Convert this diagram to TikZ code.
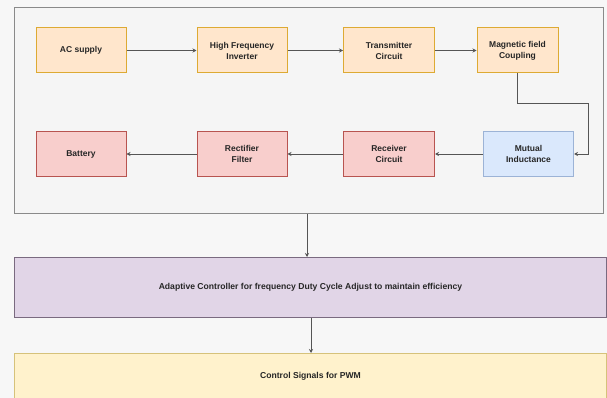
\documentclass[tikz,border=0pt]{standalone}
\usepackage{fontspec}
\setmainfont{Liberation Sans}
\usetikzlibrary{arrows.meta}
\definecolor{bg}{HTML}{F7F7F7}
\definecolor{contfill}{HTML}{F5F5F5}
\definecolor{contline}{HTML}{8A8A8A}
\definecolor{orfill}{HTML}{FFE6CC}
\definecolor{orline}{HTML}{DDAA33}
\definecolor{rdfill}{HTML}{F8CECC}
\definecolor{rdline}{HTML}{B85450}
\definecolor{blfill}{HTML}{DAE8FC}
\definecolor{blline}{HTML}{9CB3D6}
\definecolor{pufill}{HTML}{E1D5E7}
\definecolor{puline}{HTML}{7A6A80}
\definecolor{yefill}{HTML}{FFF2CC}
\definecolor{yeline}{HTML}{D6C27A}
\definecolor{conn}{HTML}{555555}
\tikzset{
  blk/.style={draw, line width=1pt, minimum width=89pt, minimum height=45pt, inner sep=1pt,
    align=center, font=\fontsize{8.5}{11}\selectfont\bfseries, text=black!85},
  orbox/.style={blk, fill=orfill, draw=orline},
  rdbox/.style={blk, fill=rdfill, draw=rdline},
  blbox/.style={blk, fill=blfill, draw=blline},
  wide/.style={line width=1pt, minimum width=592pt, inner sep=0pt, anchor=north west,
    font=\fontsize{8.6}{10}\selectfont\bfseries, text=black!85},
  conn/.style={draw=conn, line width=0.8pt, -{Stealth[length=4pt,width=4pt]}},
}
\begin{document}
\begin{tikzpicture}[x=1pt,y=-1pt]
\useasboundingbox (0,0) rectangle (607,398);
\fill[bg] (0,0) rectangle (607,398);
\node[draw=contline, fill=contfill, line width=0.9pt, minimum width=589pt, minimum height=206pt, inner sep=0pt, anchor=north west] (cont) at (14,7) {};
\node[orbox, minimum width=90pt] (ac) at (81,50.5) {AC supply};
\node[orbox, minimum width=90pt] (hfi) at (242,50.5) {High Frequency\\Inverter};
\node[orbox, minimum width=91pt] (tx) at (389,50.5) {Transmitter\\Circuit};
\node[orbox, minimum width=81pt] (mag) at (517.5,50.5) {Magnetic field\\Coupling};
\node[rdbox, minimum width=90pt] (bat) at (81,154) {Battery};
\node[rdbox, minimum width=90pt] (rect) at (242,154) {Rectifier\\Filter};
\node[rdbox, minimum width=91pt] (rx) at (389,154) {Receiver\\Circuit};
\node[blbox, minimum width=90pt] (mut) at (528.5,154) {Mutual\\Inductance};
\node[wide, draw=puline, fill=pufill, minimum height=60pt] (ada) at (14,257) {Adaptive Controller for frequency Duty Cycle Adjust to maintain efficiency};
\node[wide, draw=yeline, fill=yefill, minimum height=45pt] (pwm) at (14,353) {Control Signals for PWM};
\coordinate (c1) at (517,103);
\coordinate (c2) at (588,103);
\coordinate (c3) at (588,154);
\coordinate (a1) at (307,213);
\coordinate (a2) at (311,317);
\draw[conn] (ac) -- (hfi);
\draw[conn] (hfi) -- (tx);
\draw[conn] (tx) -- (mag);
\draw[conn] (mag.south -| c1) -- (c1) -- (c2) -- (c3) -- (mut.east);
\draw[conn] (mut) -- (rx);
\draw[conn] (rx) -- (rect);
\draw[conn] (rect) -- (bat);
\draw[conn] (cont.south -| a1) -- (ada.north -| a1);
\draw[conn] (ada.south -| a2) -- (pwm.north -| a2);
\end{tikzpicture}
\end{document}
